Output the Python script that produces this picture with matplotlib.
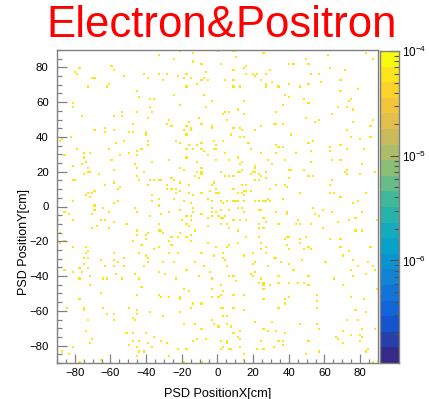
import numpy as np
import matplotlib
matplotlib.use('Agg')
import matplotlib.pyplot as plt
from matplotlib.colors import LinearSegmentedColormap, ListedColormap, BoundaryNorm
from matplotlib.ticker import MultipleLocator, LogLocator

plt.rcParams['font.family'] = ['Liberation Sans', 'DejaVu Sans']
plt.rcParams['mathtext.default'] = 'regular'

# ---------------- data: hit positions (cm) ----------------
upper_left = [(-32.6,86.5),(-77.9,79.5),(-59.7,80.4),(-58.8,78.5),(-79.7,77.5),(-78.6,76.4),(-41.6,76.2),(-32.6,75.6),(-70.6,73.7),(-68.5,73.7),(-51.7,74.7),(-38.6,73.5),(-30.7,72.7),(-60.7,70.3),(-61.6,69.5),(-72.8,68.5),(-44.8,66.6),(-43.7,63.5),(-37.5,62.4),(-35.8,61.6),(-80.7,59.5),(-80.7,56.6),(-37.5,56.6),(-53.7,54.5),(-45.5,54.5),(-36.5,54.5),(-76.7,52.4),(-58.8,52.4),(-53.7,52.4),(-38.6,50.7),(-47.6,47.6),(-63.6,44.8),(-69.6,43.6),(-63.6,42.7),(-57.7,43.6),(-49.7,42.7),(-47.6,42.7),(-40.7,42.1),(-39.7,41.5),(-82.7,40.7),(-86.8,39.4),(-38.6,38.4),(-56.7,36.5),(-52.7,37.7),(-88.7,37.7),(-38.6,35.6),(-42.5,33.5),(-78.6,32.5),(-60.7,32.5),(-75.6,30.4),(-71.5,30.6),(-85.7,29.4),(-54.7,29.4),(-49.7,30.4),(-44.6,31.5),(-44.6,29.4),(-75.6,28.5),(-59.7,27.5),(-73.6,25.4),(-36.5,25.4),(-80.7,23.3),(-76.7,24.4),(-46.6,24.4),(-72.6,22.3),(-44.6,22.3),(-58.6,21.4),(-71.7,20.2),(-72.6,19.3),(-74.7,18.3),(-66.6,18.3),(-41.6,19.3),(-44.6,17.5),(-80.7,15.2),(-79.7,15.2),(-43.7,14.5),(-37.5,14.5),(-35.7,15.2),(-33.6,15.2),(-31.6,15.2),(-63.6,12.6),(-58.6,13.5),(-38.6,12.6),(-54.7,11.4),(-55.6,10.5),(-68.7,9.5),(-72.6,8.3),(-70.6,8.3),(-73.6,6.4),(-71.7,5.3),(-36.5,6.4),(-55.6,3.4),(-33.6,4.3),(-80.7,2.4),(-57.7,1.4),(-36.5,2.4),(-68.7,0.3),(-32.6,0.3)]

upper_center = [(-21.6,89.8),(0.5,89.8),(-13.6,87.7),(8.5,88.8),(25.5,87.7),(-24.6,85.0),(-13.6,83.7),(10.4,85.6),(-8.7,82.7),(1.4,81.6),(16.4,80.4),(15.4,79.5),(8.5,78.5),(29.4,78.5),(-6.6,77.5),(-28.5,76.6),(-17.7,76.6),(16.4,76.6),(19.3,76.6),(22.3,76.6),(26.4,76.6),(-22.5,74.5),(-18.6,73.7),(-14.7,73.7),(-7.6,73.5),(-8.7,72.6),(-5.7,72.6),(4.4,72.6),(9.4,72.6),(21.4,74.7),(24.4,72.6),(-11.7,70.4),(-17.7,69.5),(9.4,69.5),(12.4,69.5),(26.4,70.4),(26.4,68.5),(-24.6,64.3),(-7.6,64.3),(-2.5,60.9),(15.4,60.3),(-20.7,58.2),(-6.6,56.6),(4.4,54.5),(6.4,54.5),(3.5,53.4),(11.5,55.5),(14.5,53.4),(-10.6,50.7),(-26.6,49.4),(5.3,49.4),(-16.5,48.4),(-28.5,47.4),(-25.5,46.5),(-17.7,46.5),(-9.6,47.4),(-3.6,46.3),(-2.5,44.8),(-14.7,45.5),(9.4,45.5),(12.4,45.5),(13.4,44.4),(24.4,46.5),(-18.6,43.6),(-14.7,43.4),(-17.7,41.7),(7.4,41.7),(21.4,43.4),(14.5,40.5),(12.4,39.6),(-23.6,38.4),(-1.6,37.5),(3.5,37.5),(-21.6,36.5),(-8.7,36.5),(17.5,36.1),(-16.5,35.6),(-11.7,35.6),(-0.7,35.4),(-17.7,33.5),(-0.7,33.5),(-1.6,32.5),(-13.6,32.5),(-8.7,32.5),(18.4,32.5),(-7.6,31.5),(4.4,30.4),(24.4,30.4),(-5.7,29.4),(-17.7,28.5),(11.5,28.5),(-26.6,27.5),(-0.7,26.4),(6.4,26.4),(27.6,27.5),(13.4,25.4),(-11.7,25.4),(12.4,24.3),(-20.7,22.3),(-18.6,21.4),(-9.6,22.3),(20.5,23.3),(21.4,22.3),(13.4,21.0),(12.4,20.2),(19.3,20.2),(26.4,20.2),(-11.7,20.2),(-9.6,19.3),(-8.7,18.3),(2.3,19.3),(11.5,19.3),(18.4,18.3),(20.5,19.3),(23.5,18.3),(-12.6,17.4),(4.4,17.4),(6.4,17.4),(9.4,17.4),(24.4,17.4),(26.4,16.2),(-10.6,16.2),(23.5,15.2),(20.5,14.5),(-25.5,16.2),(-24.6,14.5),(-21.6,13.5),(-16.5,12.6),(-2.5,12.6),(-1.6,13.5),(13.4,12.6),(16.5,12.0),(-28.5,12.6),(-28.5,10.5),(-25.5,10.5),(-23.6,10.5),(-20.7,9.5),(-0.7,10.5),(8.5,10.5),(15.4,9.5),(16.4,9.5),(18.4,9.5),(29.4,10.5),(-8.7,8.3),(-4.6,9.5),(0.5,8.3),(-0.7,7.4),(11.5,8.3),(13.4,7.4),(-16.5,7.4),(-23.6,7.4),(-13.6,6.4),(14.5,6.4),(-5.7,4.3),(-24.6,3.9),(-18.6,2.4),(-2.5,2.4),(1.4,2.4),(3.5,1.4),(5.3,2.4),(8.5,3.4),(10.4,2.4),(11.5,3.4),(14.5,2.4),(20.5,3.4),(23.5,2.4),(25.5,3.4),(26.4,2.4),(27.6,4.3),(29.4,2.4),(-14.7,1.4)]

upper_right = [(83.7,87.7),(86.7,84.6),(61.6,86.5),(49.5,84.6),(51.5,82.7),(39.6,81.6),(42.6,82.1),(62.6,80.0),(71.5,78.5),(52.5,76.6),(57.5,76.6),(68.5,72.6),(58.5,71.6),(30.6,71.6),(40.5,70.4),(46.5,69.5),(50.6,70.4),(33.6,69.5),(78.6,67.6),(69.5,66.4),(37.5,64.5),(39.6,63.4),(75.5,61.4),(73.6,60.9),(48.5,61.4),(50.6,59.5),(36.6,58.4),(67.6,57.4),(72.5,56.5),(76.6,55.5),(32.7,54.3),(64.6,53.4),(49.5,51.5),(86.7,50.3),(57.5,49.4),(54.5,48.4),(76.6,48.4),(31.5,46.9),(32.7,47.4),(36.6,46.9),(85.6,46.5),(72.5,44.4),(41.6,40.9),(75.5,40.5),(79.6,39.4),(85.6,40.5),(53.6,38.2),(51.5,36.5),(32.7,35.4),(34.5,34.4),(36.6,34.4),(62.6,34.4),(69.5,35.6),(81.6,33.5),(72.5,32.5),(52.5,31.3),(63.5,31.3),(32.7,30.4),(44.1,30.4),(68.5,27.5),(37.5,26.4),(64.6,26.4),(52.5,25.4),(30.6,24.4),(80.5,24.4),(48.9,21.4),(41.6,21.4),(40.5,20.4),(71.5,20.2),(72.5,21.4),(72.5,18.3),(79.6,18.3),(87.6,19.3),(51.5,17.5),(53.6,17.5),(39.6,16.4),(64.6,14.5),(32.7,12.0),(37.5,12.6),(38.6,11.4),(63.5,12.6),(45.6,8.3),(65.6,8.3),(63.5,7.4),(83.7,7.4),(68.5,5.3),(36.6,3.9),(78.6,2.4),(76.6,1.4)]

lower_left = [(-69.6,-1.7),(-64.6,-0.5),(-46.6,-0.5),(-44.6,-2.6),(-85.7,-3.6),(-83.5,-4.7),(-70.6,-4.7),(-60.7,-3.6),(-37.5,-5.5),(-31.6,-4.7),(-89.6,-7.8),(-80.7,-7.8),(-65.7,-7.8),(-63.6,-7.8),(-58.6,-8.8),(-32.6,-9.7),(-50.6,-10.7),(-67.6,-11.8),(-70.6,-12.8),(-60.7,-12.8),(-44.6,-13.7),(-33.6,-13.7),(-31.6,-13.7),(-30.6,-14.9),(-88.5,-14.9),(-44.6,-16.0),(-38.6,-14.9),(-40.6,-15.9),(-40.6,-18.9),(-47.6,-19.3),(-85.7,-19.3),(-88.5,-20.8),(-42.5,-21.8),(-80.7,-22.8),(-73.6,-22.8),(-72.6,-25.8),(-35.8,-24.7),(-32.6,-22.8),(-73.6,-26.8),(-58.6,-26.8),(-43.7,-26.8),(-40.6,-27.9),(-52.7,-28.9),(-75.6,-29.8),(-72.6,-29.8),(-38.6,-29.8),(-65.7,-30.8),(-57.7,-30.8),(-55.6,-32.0),(-39.5,-32.0),(-30.6,-32.0),(-75.6,-32.9),(-63.1,-34.6),(-57.7,-34.6),(-52.7,-34.6),(-41.6,-34.6),(-77.7,-36.0),(-72.6,-36.0),(-85.7,-36.9),(-80.7,-37.9),(-76.7,-37.9),(-32.6,-37.9),(-56.5,-38.9),(-45.7,-38.9),(-71.7,-40.0),(-43.7,-40.9),(-61.5,-40.9),(-77.7,-41.9),(-64.6,-41.9),(-53.7,-41.9),(-71.7,-44.8),(-42.5,-45.8),(-65.7,-49.8),(-45.5,-50.7),(-33.6,-50.7),(-31.6,-51.7),(-77.7,-53.8),(-64.6,-57.8),(-75.6,-57.8),(-84.6,-58.8),(-75.6,-59.9),(-50.2,-58.8),(-45.5,-59.9),(-37.5,-60.9),(-61.5,-61.9),(-57.7,-61.9),(-44.6,-61.9),(-30.6,-62.8),(-47.6,-64.0),(-46.6,-64.9),(-72.6,-64.9),(-57.7,-64.9),(-73.6,-70.9),(-50.6,-72.8),(-47.6,-72.8),(-40.6,-72.8),(-35.8,-74.9),(-70.6,-76.8),(-47.6,-77.8),(-43.7,-77.8),(-31.6,-77.8),(-71.7,-78.9),(-49.7,-79.9),(-38.6,-78.9),(-80.7,-80.8),(-44.6,-80.8),(-36.5,-80.8),(-43.7,-83.0),(-41.6,-83.0),(-87.6,-83.9),(-83.5,-84.9),(-44.6,-85.8),(-77.7,-88.9),(-65.7,-87.9)]

lower_center = [(-26.6,-3.6),(-20.7,-1.7),(-13.6,-1.1),(-13.6,-3.6),(-8.7,-4.2),(-2.5,-1.1),(-0.7,-2.6),(-3.6,-3.6),(1.4,-2.1),(6.4,-1.7),(11.5,-0.5),(13.4,-0.1),(15.4,-2.6),(23.1,-2.1),(24.4,-1.7),(-17.7,-5.7),(-14.7,-5.7),(-19.5,-7.8),(-15.6,-7.8),(-5.7,-6.7),(-3.6,-5.7),(0.5,-5.7),(4.4,-5.7),(3.5,-7.2),(1.4,-7.2),(8.5,-7.8),(12.4,-7.8),(16.4,-7.8),(25.5,-6.7),(26.4,-8.8),(23.5,-10.3),(-17.7,-9.7),(1.4,-10.3),(5.0,-10.3),(-16.5,-11.8),(-5.7,-11.8),(6.4,-12.8),(11.5,-13.7),(23.5,-12.8),(25.5,-12.8),(-12.6,-14.0),(-21.6,-14.9),(-22.5,-16.8),(-17.7,-16.8),(-15.6,-15.9),(16.4,-16.8),(-25.5,-17.8),(23.5,-17.2),(-27.6,-19.9),(-15.6,-19.9),(-5.0,-21.0),(11.5,-20.8),(-25.5,-21.8),(6.4,-21.8),(24.4,-20.8),(-0.7,-23.9),(5.3,-23.9),(26.4,-22.8),(24.4,-24.7),(-27.6,-26.6),(-22.5,-26.6),(-8.7,-26.6),(2.5,-26.6),(19.3,-26.6),(26.4,-27.5),(-1.6,-28.7),(14.5,-28.7),(3.5,-29.6),(4.4,-30.6),(-24.6,-31.8),(-12.6,-31.8),(21.4,-31.8),(19.3,-32.7),(-7.6,-33.7),(28.3,-33.7),(5.3,-34.8),(20.5,-37.9),(18.4,-38.9),(-4.6,-37.9),(-17.7,-37.1),(-29.6,-39.4),(-10.6,-40.4),(6.4,-40.4),(8.5,-40.4),(19.3,-40.4),(24.4,-41.3),(10.4,-42.7),(-23.5,-41.9),(-2.9,-41.9),(23.5,-44.0),(25.5,-43.5),(25.5,-45.0),(1.4,-45.6),(29.4,-45.6),(-18.6,-46.9),(-2.7,-47.5),(25.5,-47.7),(-16.5,-48.4),(3.5,-48.4),(2.3,-50.7),(-26.6,-51.7),(-21.6,-51.7),(0.5,-51.7),(9.4,-50.7),(14.5,-50.7),(-2.5,-52.7),(-20.7,-53.8),(25.3,-53.8),(-13.6,-55.7),(-9.3,-55.7),(2.3,-57.8),(3.5,-58.8),(8.5,-58.8),(-15.6,-58.8),(-20.7,-60.7),(15.4,-59.9),(3.5,-62.8),(5.3,-62.8),(-2.5,-64.9),(21.4,-66.6),(-18.6,-67.6),(-12.6,-67.6),(-1.6,-67.6),(5.3,-67.6),(0.5,-68.8),(7.4,-68.8),(-8.7,-69.7),(25.5,-69.7),(12.6,-70.9),(27.6,-70.9),(8.5,-72.8),(11.5,-74.9),(12.4,-75.8),(-6.6,-75.8),(-11.7,-75.8),(5.3,-77.0),(-13.6,-77.8),(2.3,-77.8),(24.4,-77.8),(-28.5,-78.9),(5.3,-78.9),(3.5,-80.8),(6.4,-81.8),(12.4,-80.8),(-22.5,-81.8),(-17.1,-81.8),(1.4,-81.8),(7.4,-82.7),(22.3,-82.7),(25.5,-82.7),(14.5,-84.9),(-27.6,-85.8),(15.4,-87.9),(-18.6,-88.9),(-8.7,-88.9)]

lower_right = [(32.7,-2.6),(38.6,-2.6),(38.6,-4.7),(53.6,-1.1),(59.6,-1.7),(64.6,-2.6),(80.5,-3.6),(54.5,-4.7),(56.6,-5.7),(77.5,-6.7),(45.0,-7.8),(73.6,-7.8),(89.3,-7.8),(67.6,-8.8),(46.5,-9.7),(33.6,-10.7),(43.5,-10.7),(52.5,-10.7),(59.6,-12.8),(77.5,-13.7),(80.5,-13.7),(38.6,-16.8),(49.5,-16.8),(37.5,-18.9),(40.5,-17.8),(45.6,-18.9),(45.6,-20.8),(62.6,-18.9),(68.5,-18.9),(38.6,-21.8),(69.1,-22.8),(85.6,-22.8),(39.6,-24.5),(48.5,-24.5),(50.6,-23.9),(52.5,-24.5),(73.6,-25.4),(31.5,-28.9),(32.7,-29.5),(69.7,-28.7),(47.6,-30.8),(76.6,-30.8),(35.6,-31.8),(60.5,-31.8),(84.6,-31.8),(40.5,-32.7),(86.7,-33.7),(78.6,-34.8),(42.6,-36.7),(75.5,-36.7),(87.6,-36.7),(82.9,-38.5),(34.5,-39.8),(33.6,-40.8),(50.6,-39.8),(76.6,-40.8),(65.6,-41.7),(34.5,-43.8),(40.5,-43.8),(44.6,-43.8),(48.5,-43.8),(50.6,-44.8),(69.7,-44.8),(89.7,-46.9),(55.5,-50.7),(74.5,-51.7),(40.5,-52.7),(37.5,-53.8),(82.6,-53.8),(55.5,-54.8),(37.5,-55.7),(55.5,-57.8),(34.5,-58.8),(77.5,-59.9),(83.7,-60.9),(72.7,-64.9),(78.6,-65.7),(30.6,-66.6),(45.6,-67.6),(55.5,-67.6),(57.5,-69.7),(80.5,-69.7),(87.6,-69.7),(32.7,-70.9),(70.6,-70.9),(37.5,-72.8),(74.5,-73.7),(79.6,-73.7),(66.5,-74.9),(67.6,-75.8),(80.5,-74.9),(34.5,-77.8),(36.6,-77.8),(51.5,-77.8),(70.6,-78.9),(79.6,-77.8),(36.6,-79.9),(31.5,-80.8),(84.6,-81.8),(57.1,-83.7),(83.7,-83.7),(49.5,-84.9),(86.5,-88.9)]

entry_weight = 7e-5          # content of each filled bin
z_min, z_max = 1.05e-7, 1e-4  # colour axis range
n_bins = 150
axis_range = (-90.0, 90.0)
title_text = "Electron&Positron"
x_title = "PSD PositionX[cm]"
y_title = "PSD PositionY[cm]"

# ---------------- histogram ----------------
pts = np.array(upper_left + upper_center + upper_right + lower_left + lower_center + lower_right)
H, xe, ye = np.histogram2d(pts[:, 0], pts[:, 1], bins=n_bins, range=[axis_range, axis_range])
Z = np.ma.masked_equal(H.T * entry_weight, 0)

# ROOT kBird palette, 20 contour bands
stops = np.linspace(0, 1, 9)
red = [0.2082, 0.0592, 0.0780, 0.0232, 0.1802, 0.5301, 0.8186, 0.9956, 0.9764]
green = [0.1664, 0.3599, 0.5041, 0.6419, 0.7178, 0.7492, 0.7328, 0.7862, 0.9832]
blue = [0.5293, 0.8684, 0.8385, 0.7914, 0.6425, 0.4662, 0.3499, 0.1968, 0.0539]
bird = LinearSegmentedColormap.from_list('bird', list(zip(stops, zip(red, green, blue))))
n_levels = 20
levels = np.logspace(np.log10(z_min), np.log10(z_max), n_levels + 1)
cmap = ListedColormap(bird(np.linspace(0, 1, n_levels)))
norm = BoundaryNorm(levels, n_levels)

W, HP = 429, 399
def frame(l, t, r, b):
    return [l / W, 1 - b / HP, (r - l) / W, (b - t) / HP]

fig = plt.figure(figsize=(W / 100, HP / 100), dpi=100)
ax = fig.add_axes(frame(57, 50, 378, 363))
ax.pcolormesh(xe, ye, Z, cmap=cmap, norm=norm, antialiased=False, linewidth=0)
ax.set_xlim(*axis_range)
ax.set_ylim(*axis_range)
ax.xaxis.set_major_locator(MultipleLocator(20))
ax.xaxis.set_minor_locator(MultipleLocator(5))
ax.yaxis.set_major_locator(MultipleLocator(20))
ax.yaxis.set_minor_locator(MultipleLocator(5))
frame_col = '#808080'
for s in ax.spines.values():
    s.set_color(frame_col)
    s.set_linewidth(1.0)
ax.tick_params(axis='both', which='both', direction='in', color=frame_col, width=0.9,
               labelsize=8.2, top=False, right=False)
ax.tick_params(axis='x', which='major', length=6.7, pad=3.5)
ax.tick_params(axis='x', which='minor', length=3.2)
ax.tick_params(axis='y', which='major', length=6.9, pad=6.0)
ax.tick_params(axis='y', which='minor', length=3.8)

# colour bar
cax = fig.add_axes(frame(380, 51, 399, 363))
mids = np.sqrt(levels[:-1] * levels[1:])
cax.pcolormesh([0, 1], levels, mids[:, None], cmap=cmap, norm=norm, antialiased=False, linewidth=0)
cax.set_yscale('log')
cax.set_ylim(z_min, z_max)
cax.set_xlim(0, 1)
cax.set_xticks([])
cax.yaxis.tick_right()
cax.yaxis.set_major_locator(LogLocator(base=10))
cax.yaxis.set_minor_locator(LogLocator(base=10, subs=np.arange(2, 10)))
for s in cax.spines.values():
    s.set_color(frame_col)
    s.set_linewidth(1.0)
cax.tick_params(axis='y', which='both', direction='in', color='#505050', width=0.8,
                labelsize=8.5, left=False, right=True, pad=2.5)
cax.tick_params(axis='y', which='major', length=6.5)
cax.tick_params(axis='y', which='minor', length=3.5)

# titles
fig.text(222 / W, 1 - 37 / HP, title_text, color='#ff0000', fontsize=31.5,
         ha='center', va='baseline')
fig.text(218 / W, 1 - 396.5 / HP, x_title, fontsize=9.2, ha='center', va='baseline')
fig.text(27.0 / W, 1 - 242 / HP, y_title, fontsize=9.0, rotation=90,
         rotation_mode='anchor', ha='center', va='baseline')

fig.savefig('out.png', dpi=100)
